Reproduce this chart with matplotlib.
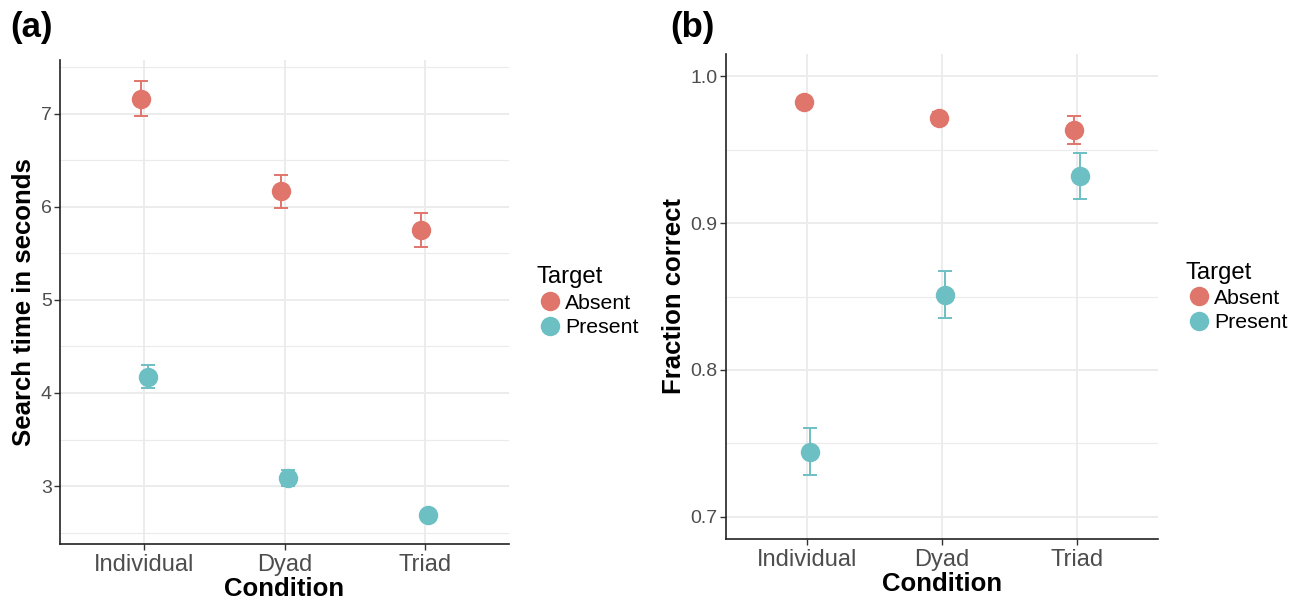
import matplotlib
matplotlib.use("Agg")
import matplotlib.pyplot as plt
from matplotlib.lines import Line2D
from matplotlib.ticker import FixedLocator, FormatStrFormatter
from matplotlib.transforms import blended_transform_factory
import numpy as np

plt.rcParams['font.family'] = ['Liberation Sans', 'DejaVu Sans']

conditions = ["Individual", "Dyad", "Triad"]
groups = ["Absent", "Present"]
colors = {"Absent": "#E0756B", "Present": "#6CBFC3"}

# Panel (a): search time in seconds
time_absent = [7.16, 6.165, 5.75]
time_absent_err = [0.19, 0.18, 0.18]
time_present = [4.175, 3.086, 2.69]
time_present_err = [0.125, 0.09, 0.03]

# Panel (b): fraction correct
acc_absent = [0.9825, 0.9712, 0.9633]
acc_absent_err = [0.002, 0.004, 0.0095]
acc_present = [0.7444, 0.8512, 0.9318]
acc_present_err = [0.0158, 0.016, 0.0155]

fig = plt.figure(figsize=(13.02, 6.0), dpi=100)
ax_a = fig.add_axes([60/1302, 56/600, 449/1302, 484/600])
ax_b = fig.add_axes([726/1302, 61/600, 432/1302, 485/600])

tick_col = "#4D4D4D"
grid_col = "#EBEBEB"
dodge = 0.025


def style(ax, ylim, major, minor, ylabel, fmt, ylabel_right_px):
    x = np.arange(1, len(conditions) + 1)
    ax.set_xlim(0.4, 3.6)
    ax.set_ylim(*ylim)
    ax.set_xticks(x)
    ax.set_xticklabels(conditions)
    ax.yaxis.set_major_locator(FixedLocator(major))
    ax.yaxis.set_minor_locator(FixedLocator(minor))
    ax.yaxis.set_major_formatter(FormatStrFormatter(fmt))
    ax.grid(True, which='major', axis='both', color=grid_col, lw=1.3, zorder=0)
    ax.grid(True, which='minor', axis='y', color=grid_col, lw=0.8, zorder=0)
    ax.set_axisbelow(True)
    for s in ("top", "right"):
        ax.spines[s].set_visible(False)
    for s in ("left", "bottom"):
        ax.spines[s].set_color("#222222")
        ax.spines[s].set_linewidth(1.2)
    ax.tick_params(axis='both', which='major', length=4, width=1, color="#333333",
                   labelcolor=tick_col, pad=3)
    ax.tick_params(axis='x', which='major', labelsize=17)
    ax.tick_params(axis='y', which='major', labelsize=14, pad=2)
    ax.tick_params(axis='y', which='minor', length=0)
    ax.set_xlabel("Condition", fontsize=18.5, fontweight='bold', labelpad=1)
    ax.set_ylabel(ylabel, fontsize=18.5, fontweight='bold')
    tr = blended_transform_factory(fig.transFigure, ax.transAxes)
    ax.yaxis.set_label_coords(ylabel_right_px / 1302, 0.5, transform=tr)


def draw(ax, absent, aerr, present, perr):
    x = np.arange(1, len(conditions) + 1)
    for vals, errs, g, off in ((absent, aerr, "Absent", -dodge), (present, perr, "Present", dodge)):
        ax.errorbar(x + off, vals, yerr=errs, fmt='none', ecolor=colors[g],
                    elinewidth=1.4, capsize=5, capthick=1.4, zorder=3)
        ax.plot(x + off, vals, 'o', color=colors[g], markersize=14, mec='none', zorder=4)


draw(ax_a, time_absent, time_absent_err, time_present, time_present_err)
style(ax_a, (2.378, 7.575), [3, 4, 5, 6, 7], [2.5, 3.5, 4.5, 5.5, 6.5, 7.5],
      "Search time in seconds", "%d", 36)

draw(ax_b, acc_absent, acc_absent_err, acc_present, acc_present_err)
style(ax_b, (0.685, 1.015), [0.7, 0.8, 0.9, 1.0], [0.75, 0.85, 0.95],
      "Fraction correct", "%.1f", 686)

handles = [Line2D([], [], marker='o', ls='none', color=colors[g], markersize=14, mec='none')
           for g in groups]

for ax, anchor in ((ax_a, (528/1302, 1 - 258/600)), (ax_b, (1177/1302, 1 - 253/600))):
    leg = fig.legend(handles, groups, title="Target", loc='upper left', bbox_to_anchor=anchor,
                     frameon=False, fontsize=15.3, title_fontsize=17.2,
                     handletextpad=0.05, labelspacing=0.25, borderaxespad=0,
                     handlelength=1.3, alignment='left')

fig.text(10/1302, 1 - 27/600, "(a)", fontsize=25, fontweight='bold', va='center', ha='left')
fig.text(670/1302, 1 - 27/600, "(b)", fontsize=25, fontweight='bold', va='center', ha='left')

fig.savefig("out.png", dpi=100)
